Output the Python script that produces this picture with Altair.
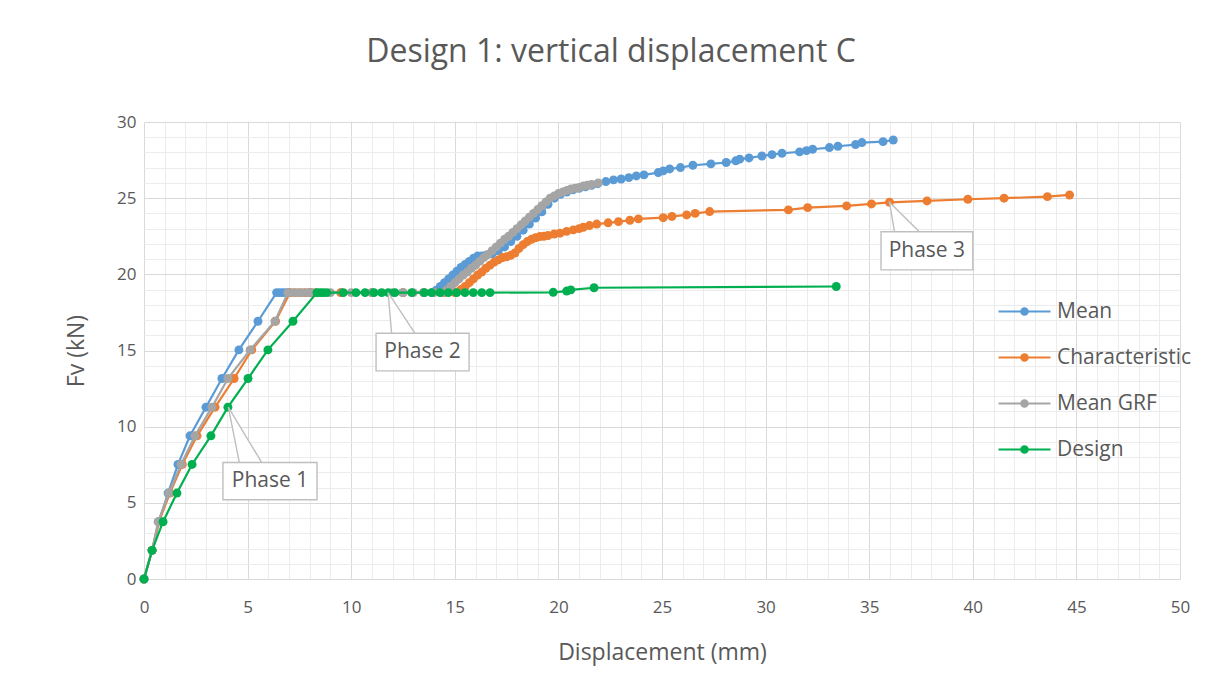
import altair as alt
import pandas as pd

# ---------------- data ----------------
series_names = ["Mean", "Characteristic", "Mean GRF", "Design"]
series_colors = ["#5B9BD5", "#ED7D31", "#A5A5A5", "#00B050"]

mean_x = [0, 0.39, 0.72, 1.16, 1.64, 2.22, 2.99, 3.76, 4.58, 5.5,
          6.4, 6.55, 6.7, 6.85, 7.0, 8.0, 9.5, 11.0, 12.5, 13.5, 13.9,
          14.1, 14.3, 14.5, 14.7, 14.9, 15.1, 15.3, 15.5, 15.7, 15.9, 16.1, 16.3, 16.5, 16.8, 17.1,
          17.4, 17.7, 18.0, 18.3, 18.6, 18.9, 19.2, 19.5, 19.8, 20.1, 20.4, 20.7, 21.0, 21.3, 21.6, 21.9,
          22.29, 22.66, 23.03, 23.4, 23.76, 24.13, 24.82, 25.06, 25.37, 25.89, 26.49, 27.36, 28.1, 28.56,
          28.75, 29.2, 29.82, 30.31, 30.79, 31.64, 31.97, 32.27, 33.08, 33.49, 34.34, 34.65, 35.67, 36.16]
mean_y = [0, 1.88, 3.76, 5.64, 7.52, 9.4, 11.28, 13.16, 15.04, 16.92,
          18.8, 18.8, 18.8, 18.8, 18.8, 18.8, 18.8, 18.8, 18.8, 18.8, 18.8,
          18.95, 19.2, 19.45, 19.7, 19.95, 20.2, 20.45, 20.65, 20.85, 21.05, 21.2, 21.2, 21.25, 21.35, 21.55,
          21.8, 22.15, 22.5, 22.9, 23.3, 23.7, 24.1, 24.6, 25.0, 25.25, 25.4, 25.55, 25.65, 25.75, 25.85, 25.95,
          26.09, 26.2, 26.26, 26.35, 26.46, 26.53, 26.68, 26.79, 26.92, 27.01, 27.16, 27.25, 27.34, 27.45,
          27.56, 27.64, 27.77, 27.86, 27.95, 28.04, 28.12, 28.21, 28.32, 28.41, 28.52, 28.65, 28.71, 28.82]

char_x = [0, 0.39, 0.72, 1.25, 1.85, 2.56, 3.43, 4.35, 5.2, 6.35,
          7.05, 7.3, 7.55, 7.8, 8.05, 8.3, 9.5, 11.0, 12.5, 13.5, 14.5, 15.0,
          15.1, 15.3, 15.5, 15.7, 15.9, 16.1, 16.3, 16.5, 16.7, 16.9, 17.1, 17.3, 17.5, 17.7, 17.9,
          18.1, 18.3, 18.5, 18.7, 18.9, 19.1, 19.3, 19.5, 19.8, 20.08, 20.4, 20.72, 21.0, 21.2, 21.5,
          21.85, 22.4,
          22.9, 23.45, 23.86, 25.06, 25.48, 26.19, 26.6, 27.3, 31.1, 32.03, 33.91, 35.11, 35.98,
          37.79, 39.76, 41.51, 43.6, 44.67]
char_y = [0, 1.88, 3.76, 5.64, 7.52, 9.4, 11.28, 13.16, 15.04, 16.92,
          18.8, 18.8, 18.8, 18.8, 18.8, 18.8, 18.8, 18.8, 18.8, 18.8, 18.8, 18.8,
          18.85, 19.0, 19.2, 19.45, 19.7, 19.95, 20.15, 20.4, 20.6, 20.8, 20.95, 21.1, 21.15, 21.25, 21.4,
          21.7, 21.95, 22.15, 22.3, 22.4, 22.48, 22.5, 22.55, 22.65, 22.7, 22.82, 22.92, 23.0, 23.09, 23.2,
          23.3, 23.38,
          23.46, 23.55, 23.64, 23.72, 23.8, 23.9, 24.0, 24.12, 24.23, 24.38, 24.49, 24.62, 24.73,
          24.82, 24.93, 25.0, 25.1, 25.21]

grf_x = [0, 0.39, 0.68, 1.2, 1.79, 2.46, 3.28, 4.05, 5.12, 6.32,
         6.95, 7.2, 7.45, 7.7, 7.95, 8.15, 9.0, 10.0, 11.0, 12.0, 12.5, 13.0, 13.5, 14.0, 14.4,
         14.6, 14.8, 15.0, 15.2, 15.4, 15.6, 15.8, 16.0, 16.2, 16.4, 16.6, 16.8, 17.0, 17.2, 17.4,
         17.6, 17.8, 18.0, 18.2, 18.4, 18.6, 18.8, 19.0, 19.2, 19.4, 19.6, 19.8, 20.0, 20.2, 20.4,
         20.6, 20.8, 21.0, 21.2, 21.4, 21.6, 21.93]
grf_y = [0, 1.88, 3.76, 5.64, 7.52, 9.4, 11.28, 13.16, 15.04, 16.92,
         18.8, 18.8, 18.8, 18.8, 18.8, 18.8, 18.8, 18.8, 18.8, 18.8, 18.8, 18.8, 18.8, 18.8, 18.8,
         18.95, 19.2, 19.45, 19.7, 19.95, 20.15, 20.4, 20.6, 20.85, 21.1, 21.3, 21.55, 21.8, 22.05, 22.3,
         22.5, 22.75, 23.0, 23.25, 23.5, 23.75, 24.0, 24.25, 24.5, 24.75, 25.0, 25.15, 25.3, 25.4, 25.5,
         25.6, 25.65, 25.7, 25.8, 25.85, 25.9, 26.0]

design_x = [0, 0.39, 0.92, 1.59, 2.32, 3.23, 4.05, 5.02, 5.98, 7.19,
            8.35, 8.5, 8.65, 8.82, 9.62, 10.23, 10.67, 11.1, 11.47, 11.79, 12.11, 12.92, 13.53, 13.88,
            14.29, 14.69, 15.09, 15.49, 15.89, 16.3, 16.7,
            19.75, 20.4, 20.6, 21.72, 33.41]
design_y = [0, 1.88, 3.76, 5.64, 7.52, 9.4, 11.28, 13.16, 15.04, 16.92,
            18.8, 18.8, 18.8, 18.8, 18.8, 18.8, 18.8, 18.8, 18.8, 18.8, 18.8, 18.8, 18.8, 18.8,
            18.8, 18.8, 18.8, 18.8, 18.8, 18.8, 18.8,
            18.82, 18.9, 18.98, 19.12, 19.2]

# callouts (annotated point, box extent, wedge base) in data units
phase_text = ["Phase 1", "Phase 2", "Phase 3"]
phase_tip_x = [4.07, 11.78, 35.98]
phase_tip_y = [11.28, 18.8, 24.73]
phase_box_x1 = [3.81, 11.2, 35.57]
phase_box_x2 = [8.35, 15.69, 40.0]
phase_box_ybot = [5.2, 13.66, 20.29]
phase_box_ytop = [7.65, 16.13, 22.8]
phase_base_l = [4.6, 11.95, 36.22]
phase_base_r = [5.68, 13.08, 37.42]

# ---------------- tables ----------------
rows = []
for name, xs, ys in [("Mean", mean_x, mean_y), ("Characteristic", char_x, char_y),
                     ("Mean GRF", grf_x, grf_y), ("Design", design_x, design_y)]:
    assert len(xs) == len(ys), name
    for i, (a, b) in enumerate(zip(xs, ys)):
        rows.append({"series": name, "x": a, "y": b, "idx": i})
df = pd.DataFrame(rows)

wedge_area = []
wedge_line = []
boxes = []
for t, tx, ty, bx1, bx2, yb, yt, bl, br in zip(phase_text, phase_tip_x, phase_tip_y, phase_box_x1,
                                               phase_box_x2, phase_box_ybot, phase_box_ytop,
                                               phase_base_l, phase_base_r):
    wedge_area.append({"label": t, "y": ty, "xl": tx, "xr": tx})
    wedge_area.append({"label": t, "y": yt, "xl": bl, "xr": br})
    wedge_line += [{"label": t, "x": bl, "y": yt, "o": 0},
                   {"label": t, "x": tx, "y": ty, "o": 1},
                   {"label": t, "x": br, "y": yt, "o": 2}]
    boxes.append({"label": t, "x1": bx1, "x2": bx2, "y1": yb, "y2": yt,
                  "cx": (bx1 + bx2) / 2, "cy": (yb + yt) / 2})
wa = pd.DataFrame(wedge_area)
wl = pd.DataFrame(wedge_line)
bx = pd.DataFrame(boxes)

# ---------------- styling ----------------
FONT = "Open Sans"
TXT = "#595959"

xscale = alt.Scale(domain=[0, 50], nice=False, zero=False)
yscale = alt.Scale(domain=[0, 30], nice=False, zero=False)
cscale = alt.Scale(domain=series_names, range=series_colors)

grid_color = {"condition": {"test": "datum.value % 5 === 0", "value": "#d9d9d9"}, "value": "#ececec"}
x_axis = alt.Axis(values=list(range(0, 51)), labelExpr="datum.value % 5 === 0 ? datum.label : ''",
                  grid=True, gridColor=grid_color, gridWidth=1, ticks=False, domain=False,
                  labelFont=FONT, labelFontSize=17, labelColor=TXT, labelPadding=20,
                  labelOverlap=False, labelFlush=False,
                  title="Displacement (mm)", titleFont=FONT, titleFontSize=23,
                  titleFontWeight="normal", titleColor=TXT, titlePadding=26)
y_axis = alt.Axis(values=list(range(0, 31)), labelExpr="datum.value % 5 === 0 ? datum.label : ''",
                  grid=True, gridColor=grid_color, gridWidth=1, ticks=False, domain=False,
                  labelFont=FONT, labelFontSize=17, labelColor=TXT, labelPadding=8,
                  labelOverlap=False, labelFlush=False, labelBound=False,
                  title="Fv (kN)", titleFont=FONT, titleFontSize=23,
                  titleFontWeight="normal", titleColor=TXT, titlePadding=28)


def circ(r):
    return f"M{-r:.4f},0A{r:.4f},{r:.4f} 0 1,0 {r:.4f},0A{r:.4f},{r:.4f} 0 1,0 {-r:.4f},0"


sym = "M-1,0L1,0" + circ(3.2 / 26) + circ(2.2 / 26) + circ(1.2 / 26) + circ(0.3 / 26)
legend = alt.Legend(title=None, orient="none", legendX=853, legendY=162, symbolType=sym,
                    symbolSize=2704, symbolStrokeWidth=2.2, labelFont=FONT, labelFontSize=21,
                    labelColor=TXT, labelOffset=5, rowPadding=8)

X = alt.X("x:Q", scale=xscale, axis=x_axis)
Y = alt.Y("y:Q", scale=yscale, axis=y_axis)

layers = []
for k, name in enumerate(series_names):
    base = alt.Chart(df).transform_filter(alt.datum.series == name)
    line = base.mark_line(strokeWidth=2.2).encode(
        x=X, y=Y,
        color=alt.Color("series:N", scale=cscale, legend=legend if k == 0 else None),
        order="idx:Q")
    pts = base.mark_circle(size=80, opacity=1).encode(
        x=X, y=Y, color=alt.Color("series:N", scale=cscale, legend=None))
    layers += [line, pts]

wedge_fill = alt.Chart(wa).mark_area(orient="horizontal", color="white", opacity=1).encode(
    y=alt.Y("y:Q", scale=yscale, axis=y_axis), x=alt.X("xl:Q", scale=xscale, axis=x_axis),
    x2="xr:Q", detail="label:N")
wedge_edge = alt.Chart(wl).mark_line(color="#bfbfbf", strokeWidth=1.4).encode(
    x=alt.X("x:Q", scale=xscale, axis=x_axis), y=alt.Y("y:Q", scale=yscale, axis=y_axis),
    detail="label:N", order="o:Q")
box = alt.Chart(bx).mark_rect(fill="white", stroke="#bfbfbf", strokeWidth=1.4).encode(
    x=alt.X("x1:Q", scale=xscale, axis=x_axis), x2="x2:Q",
    y=alt.Y("y1:Q", scale=yscale, axis=y_axis), y2="y2:Q")
box_text = alt.Chart(bx).mark_text(font=FONT, fontSize=21, color=TXT).encode(
    x=alt.X("cx:Q", scale=xscale, axis=x_axis), y=alt.Y("cy:Q", scale=yscale, axis=y_axis),
    text="label:N")

chart = alt.layer(*layers, wedge_fill, wedge_edge, box, box_text).properties(
    width=1036, height=457,
    title=alt.TitleParams("Design 1: vertical displacement C", font=FONT, fontSize=32,
                          fontWeight="normal", color=TXT, anchor="middle", dx=-51, offset=44),
    autosize=alt.AutoSizeParams(type="none"),
    padding={"left": 136, "top": 114, "right": 24, "bottom": 95},
    background="white",
).configure_view(stroke=None)

chart.save("out.html", embed_options={"renderer": "svg", "actions": False})
